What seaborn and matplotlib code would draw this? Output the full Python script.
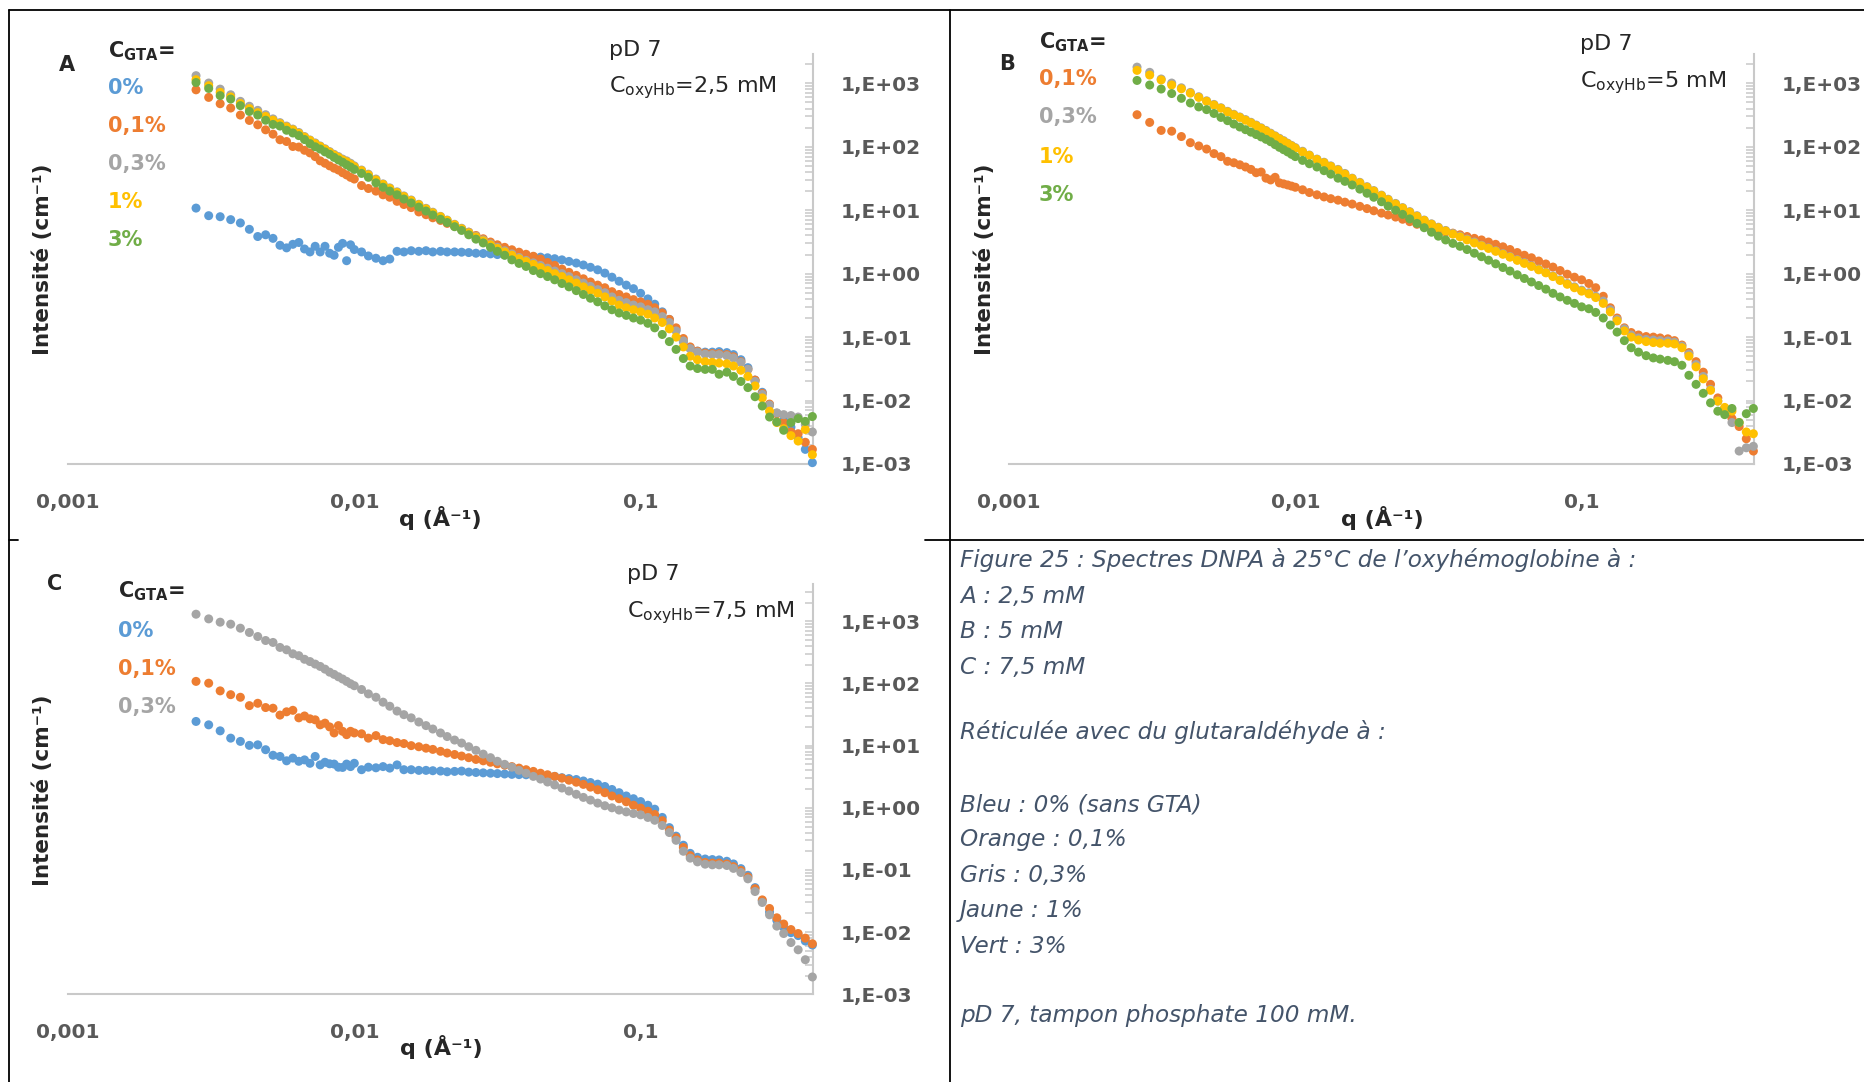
import numpy as np
import pandas as pd
import matplotlib.pyplot as plt
from matplotlib.lines import Line2D
from matplotlib.ticker import LogLocator, FixedLocator, FuncFormatter, NullFormatter
import seaborn as sns

# q grid (A^-1) shared by every curve
q = [0.0028, 0.0031, 0.0034, 0.0037, 0.0040, 0.0043, 0.0046, 0.0049, 0.0052, 0.0055,
     0.0058, 0.0061, 0.0064, 0.0067, 0.0070, 0.0073, 0.0076, 0.0079, 0.0082, 0.0085,
     0.0088, 0.0091, 0.0094, 0.0097, 0.0100, 0.0106, 0.0112, 0.0119, 0.0126, 0.0133,
     0.0141, 0.0149, 0.0158, 0.0168, 0.0178, 0.0188, 0.0200, 0.0211, 0.0224, 0.0237,
     0.0251, 0.0266, 0.0282, 0.0299, 0.0316, 0.0335, 0.0355, 0.0376, 0.0398, 0.0422,
     0.0447, 0.0473, 0.0501, 0.0531, 0.0562, 0.0596, 0.0631, 0.0668, 0.0708, 0.0750,
     0.0794, 0.0841, 0.0891, 0.0944, 0.100, 0.106, 0.112, 0.119, 0.126, 0.133,
     0.141, 0.149, 0.158, 0.168, 0.178, 0.188, 0.200, 0.211, 0.224, 0.237,
     0.251, 0.266, 0.282, 0.299, 0.316, 0.335, 0.355, 0.376, 0.398]

# panel A : C_oxyHb = 2,5 mM
a_0 = [10.8, 8.2, 7.9, 7.1, 6.3, 5.0, 3.85, 4.1, 3.6, 2.8,
       2.55, 2.9, 3.1, 2.45, 2.2, 2.7, 2.2, 2.7, 2.1, 1.95,
       2.6, 3.0, 1.6, 2.85, 2.4, 2.2, 1.9, 1.75, 1.6, 1.7,
       2.25, 2.2, 2.3, 2.25, 2.3, 2.2, 2.25, 2.2, 2.2, 2.18,
       2.15, 2.1, 2.08, 2.05, 2.0, 1.97, 1.93, 1.9, 1.88, 1.85,
       1.82, 1.78, 1.72, 1.65, 1.56, 1.47, 1.37, 1.26, 1.15, 1.02,
       0.88, 0.76, 0.66, 0.58, 0.49, 0.40, 0.33, 0.25, 0.19, 0.13,
       0.085, 0.066, 0.060, 0.058, 0.058, 0.059, 0.057, 0.053, 0.044, 0.033,
       0.021, 0.0135, 0.0085, 0.0063, 0.0049, 0.0038, 0.0026, 0.0017, 0.00105]
a_01 = [790, 600, 477, 408, 316, 260, 222, 185, 158, 129,
        121, 101, 99, 88, 80, 70, 60, 55, 50, 46,
        43, 39, 36, 33, 31, 24.5, 22, 20, 17.5, 16,
        13.8, 12.3, 11, 9.4, 8.5, 7.6, 6.9, 6.2, 5.6, 5.0,
        4.5, 4.0, 3.55, 3.15, 2.85, 2.6, 2.38, 2.18, 2.02, 1.88,
        1.7, 1.5, 1.35, 1.18, 1.05, 0.94, 0.83, 0.74, 0.66, 0.6,
        0.52, 0.47, 0.43, 0.39, 0.36, 0.33, 0.29, 0.24, 0.19, 0.14,
        0.095, 0.07, 0.06, 0.056, 0.055, 0.055, 0.053, 0.049, 0.041, 0.031,
        0.021, 0.013, 0.0088, 0.0062, 0.0045, 0.0032, 0.0030, 0.0022, 0.0017]
a_03 = [1320, 1010, 810, 660, 520, 435, 375, 320, 275, 240,
        212, 190, 168, 145, 128, 115, 103, 93, 84, 76,
        70, 64, 60, 55, 50, 43, 37, 31, 26, 22.5,
        19.5, 16.8, 14.5, 12.4, 10.7, 9.3, 8.0, 7.0, 6.0, 5.2,
        4.5, 3.9, 3.4, 2.95, 2.6, 2.3, 2.05, 1.8, 1.62, 1.48,
        1.35, 1.22, 1.1, 1.0, 0.9, 0.8, 0.71, 0.63, 0.56, 0.5,
        0.43, 0.38, 0.35, 0.32, 0.30, 0.27, 0.25, 0.21, 0.17, 0.125,
        0.087, 0.066, 0.058, 0.054, 0.053, 0.053, 0.051, 0.047, 0.040, 0.031,
        0.020, 0.0125, 0.0085, 0.0064, 0.0060, 0.0058, 0.0055, 0.0042, 0.0032]
a_1 = [1140, 916, 720, 610, 480, 400, 345, 300, 262, 232,
       205, 185, 163, 142, 126, 112, 101, 91, 82, 74,
       68, 62, 58, 53, 48.5, 42, 36, 30, 25.5, 22,
       19, 16.4, 14.2, 12.2, 10.5, 9.1, 7.9, 6.9, 5.9, 5.1,
       4.4, 3.8, 3.3, 2.85, 2.5, 2.2, 1.95, 1.72, 1.55, 1.4,
       1.25, 1.12, 1.0, 0.9, 0.8, 0.71, 0.62, 0.55, 0.49, 0.43,
       0.37, 0.32, 0.29, 0.27, 0.25, 0.23, 0.2, 0.17, 0.135, 0.1,
       0.07, 0.05, 0.044, 0.041, 0.04, 0.039, 0.038, 0.035, 0.03, 0.024,
       0.017, 0.011, 0.0068, 0.0045, 0.0036, 0.0028, 0.0023, 0.0035, 0.0014]
a_3 = [1030, 830, 640, 565, 445, 360, 316, 262, 225, 212,
       182, 165, 150, 130, 112, 100, 92, 83, 76, 68,
       62, 57, 52, 48, 44, 38, 33, 27, 23, 20,
       17.5, 15, 13, 11.2, 9.7, 8.4, 7.2, 6.4, 5.5, 4.8,
       4.1, 3.5, 3.05, 2.6, 2.25, 1.95, 1.65, 1.45, 1.3, 1.12,
       1.0, 0.9, 0.8, 0.7, 0.62, 0.54, 0.47, 0.41, 0.36, 0.31,
       0.27, 0.24, 0.22, 0.2, 0.185, 0.165, 0.14, 0.11, 0.085, 0.064,
       0.046, 0.035, 0.032, 0.031, 0.031, 0.026, 0.028, 0.024, 0.02, 0.016,
       0.0115, 0.0082, 0.0055, 0.0046, 0.0034, 0.0045, 0.0052, 0.0047, 0.0056]

# panel B : C_oxyHb = 5 mM
b_01 = [320, 242, 181, 176, 145, 116, 103, 92, 78, 70,
        59, 56, 52, 48, 44, 39, 40, 32, 30, 33,
        27, 26, 25, 24, 23, 21, 19, 17.5, 16.2, 15.2,
        14.4, 13.4, 12.5, 11.5, 10.6, 9.8, 9.0, 8.4, 7.8, 7.2,
        6.6, 6.0, 5.5, 5.1, 4.8, 4.55, 4.35, 4.1, 3.85, 3.6,
        3.4, 3.15, 2.9, 2.65, 2.4, 2.15, 1.95, 1.78, 1.58, 1.42,
        1.27, 1.12, 0.98, 0.88, 0.8, 0.7, 0.6, 0.44, 0.29, 0.2,
        0.14, 0.118, 0.108, 0.102, 0.1, 0.097, 0.094, 0.088, 0.075, 0.057,
        0.041, 0.028, 0.018, 0.011, 0.0075, 0.0052, 0.0039, 0.0025, 0.0016]
b_03 = [1800, 1490, 1170, 1010, 850, 720, 615, 530, 465, 412,
        362, 325, 295, 268, 243, 220, 199, 181, 164, 149,
        136, 125, 114, 105, 97, 85, 74, 64, 57, 50,
        44, 38, 32, 27.5, 23.5, 20.4, 17.3, 14.9, 12.8, 11,
        9.5, 8.2, 7.0, 6.1, 5.4, 4.8, 4.3, 3.9, 3.5, 3.15,
        2.8, 2.55, 2.3, 2.07, 1.86, 1.66, 1.49, 1.33, 1.18, 1.05,
        0.92, 0.8, 0.7, 0.62, 0.55, 0.5, 0.44, 0.37, 0.27, 0.19,
        0.135, 0.108, 0.097, 0.092, 0.09, 0.088, 0.087, 0.083, 0.072, 0.054,
        0.037, 0.024, 0.015, 0.0098, 0.0072, 0.0045, 0.0016, 0.0018, 0.0019]
b_1 = [1600, 1350, 1130, 940, 820, 700, 600, 520, 455, 405,
       355, 318, 290, 262, 238, 215, 195, 177, 160, 146,
       133, 122, 112, 103, 95, 83, 73, 63, 56, 49,
       43, 37, 31.5, 27, 23, 20, 17, 14.6, 12.5, 10.8,
       9.3, 8.0, 6.9, 6.0, 5.3, 4.7, 4.2, 3.8, 3.4, 3.05,
       2.75, 2.5, 2.25, 2.02, 1.82, 1.62, 1.45, 1.3, 1.15, 1.03,
       0.9, 0.78, 0.68, 0.6, 0.53, 0.48, 0.42, 0.34, 0.25, 0.18,
       0.125, 0.1, 0.09, 0.085, 0.082, 0.08, 0.08, 0.078, 0.068, 0.05,
       0.034, 0.022, 0.0145, 0.0098, 0.0078, 0.0068, 0.0045, 0.0032, 0.0030]
b_3 = [1110, 940, 813, 690, 580, 490, 425, 385, 335, 290,
       258, 228, 205, 186, 170, 156, 143, 131, 120, 108,
       98, 90, 83, 76, 70, 61, 54, 48, 42, 37,
       32, 28.5, 25, 21.5, 18.5, 16, 13.6, 11.6, 10, 8.6,
       7.3, 6.2, 5.3, 4.5, 3.9, 3.4, 3.0, 2.7, 2.4, 2.1,
       1.85, 1.63, 1.43, 1.25, 1.1, 0.96, 0.84, 0.74, 0.65, 0.57,
       0.49, 0.43, 0.38, 0.34, 0.30, 0.28, 0.245, 0.2, 0.155, 0.12,
       0.088, 0.068, 0.058, 0.051, 0.047, 0.045, 0.043, 0.041, 0.036, 0.025,
       0.018, 0.013, 0.0092, 0.0068, 0.006, 0.0075, 0.0045, 0.0062, 0.0075]

# panel C : C_oxyHb = 7,5 mM
c_0 = [24.5, 21.6, 17.3, 13.2, 11.7, 10.1, 10.3, 8.6, 7.0, 6.7,
       5.7, 6.3, 5.6, 5.9, 5.2, 6.7, 4.9, 5.4, 5.1, 5.05,
       4.5, 4.46, 5.05, 4.6, 5.2, 4.1, 4.5, 4.4, 4.6, 4.35,
       4.9, 4.1, 4.1, 4.0, 4.0, 3.95, 3.9, 3.8, 3.85, 3.9,
       3.75, 3.7, 3.65, 3.6, 3.55, 3.5, 3.45, 3.42, 3.4, 3.38,
       3.35, 3.3, 3.2, 3.05, 2.95, 2.85, 2.7, 2.55, 2.4, 2.2,
       1.97, 1.75, 1.55, 1.4, 1.26, 1.1, 0.95, 0.7, 0.48, 0.35,
       0.25, 0.185, 0.16, 0.15, 0.147, 0.145, 0.138, 0.125, 0.105, 0.082,
       0.052, 0.032, 0.021, 0.0155, 0.012, 0.0098, 0.0088, 0.0072, 0.0062]
c_01 = [108, 101, 76, 66, 60, 44, 48, 41, 40, 31,
        35, 37, 28, 30, 27, 26, 21.6, 23, 20, 16,
        21, 17, 15, 17, 16, 15.5, 13.2, 14.5, 12.5, 12,
        11.2, 10.8, 10, 9.6, 9.1, 8.7, 8.1, 7.6, 7.2, 6.8,
        6.4, 6.0, 5.7, 5.4, 5.1, 4.85, 4.6, 4.35, 4.1, 3.85,
        3.6, 3.4, 3.2, 3.0, 2.78, 2.58, 2.38, 2.15, 1.95, 1.75,
        1.55, 1.4, 1.25, 1.1, 0.99, 0.88, 0.78, 0.62, 0.44, 0.33,
        0.23, 0.17, 0.145, 0.132, 0.129, 0.129, 0.125, 0.113, 0.098, 0.077,
        0.05, 0.033, 0.024, 0.017, 0.0135, 0.011, 0.0095, 0.008, 0.0065]
c_03 = [1300, 1094, 968, 899, 775, 661, 569, 491, 457, 380,
        348, 300, 280, 245, 225, 205, 188, 170, 152, 140,
        128, 118, 108, 99, 92, 80, 68, 60, 50, 43,
        36, 31.5, 28, 24, 21, 18.5, 16, 14, 12.3, 11,
        9.6, 8.4, 7.3, 6.4, 5.6, 5.0, 4.5, 4.0, 3.6, 3.2,
        2.9, 2.6, 2.33, 2.08, 1.86, 1.65, 1.47, 1.33, 1.19, 1.08,
        1.0, 0.92, 0.86, 0.81, 0.77, 0.7, 0.63, 0.52, 0.4, 0.3,
        0.2, 0.155, 0.135, 0.124, 0.121, 0.121, 0.118, 0.106, 0.091, 0.072,
        0.045, 0.03, 0.019, 0.0125, 0.0095, 0.0068, 0.0052, 0.0036, 0.0019]

colors = {'0%': '#5b9bd5', '0,1%': '#ed7d31', '0,3%': '#a5a5a5',
          '1%': '#ffc000', '3%': '#70ad47'}

caption = [
    ("Figure 25 : Spectres DNPA à 25°C de l’oxyhémoglobine à :", 567),
    ("A : 2,5 mM", 603), ("B : 5 mM", 638), ("C : 7,5 mM", 674),
    ("Réticulée avec du glutaraldéhyde à :", 739),
    ("Bleu : 0% (sans GTA)", 811), ("Orange : 0,1%", 846), ("Gris : 0,3%", 882),
    ("Jaune : 1%", 917), ("Vert : 3%", 953),
    ("pD 7, tampon phosphate 100 mM.", 1022),
]

W, H = 1865, 1082
sns.set_style("white")
plt.rcParams['font.family'] = ['DejaVu Sans']

fig = plt.figure(figsize=(W / 100, H / 100), dpi=100)


def fx(x):
    return x / W


def fy(y):
    return 1 - y / H


def panel(left, top, bottom, ytop, series):
    ax = fig.add_axes([fx(left), fy(bottom), 745 / W, (bottom - top) / H])
    df = pd.concat([pd.DataFrame({'q': q, 'I': v, 'GTA': k}) for k, v in series.items()],
                   ignore_index=True)
    sns.scatterplot(data=df, x='q', y='I', hue='GTA', palette=colors, s=42,
                    linewidth=0, legend=False, ax=ax, clip_on=False, zorder=3)
    ax.set_xscale('log')
    ax.set_yscale('log')
    ax.set_xlim(1e-3, 0.4)
    ax.set_ylim(1e-3, ytop)
    ax.set_xlabel('')
    ax.set_ylabel('')
    ax.patch.set_alpha(0)
    for s in ['top', 'left']:
        ax.spines[s].set_visible(False)
    for s in ['bottom', 'right']:
        ax.spines[s].set_color('#c9c9c9')
        ax.spines[s].set_linewidth(1.5)
    ax.xaxis.set_major_locator(FixedLocator([1e-3, 1e-2, 1e-1]))
    ax.xaxis.set_minor_locator(LogLocator(base=10, subs=np.arange(2, 10), numticks=20))
    ax.yaxis.set_major_locator(FixedLocator([10.0 ** k for k in range(-3, 4)]))
    ax.yaxis.set_minor_locator(LogLocator(base=10, subs=np.arange(2, 10), numticks=20))
    xlab = {-3: '0,001', -2: '0,01', -1: '0,1'}
    ax.xaxis.set_major_formatter(FuncFormatter(lambda v, p: xlab.get(int(round(np.log10(v))), '')))
    ax.yaxis.set_major_formatter(FuncFormatter(lambda v, p: '1,E{:+03d}'.format(int(round(np.log10(v))))))
    ax.xaxis.set_minor_formatter(NullFormatter())
    ax.yaxis.set_minor_formatter(NullFormatter())
    ax.tick_params(axis='x', which='both', direction='in', length=4.3, width=1.1,
                   color='#c9c9c9', pad=21, labelsize=14.5, labelcolor='#595959')
    ax.tick_params(axis='y', which='both', direction='in', length=5.5, width=1.1,
                   color='#c9c9c9', pad=20, labelsize=14.5, labelcolor='#595959',
                   left=False, right=True, labelleft=False, labelright=True)
    plt.setp(ax.get_xticklabels() + ax.get_yticklabels(), fontweight='bold')
    return ax


panel(68, 53.5, 464, 10 ** 3.47, {'0%': a_0, '0,1%': a_01, '0,3%': a_03, '1%': a_1, '3%': a_3})
panel(1009, 53.5, 464, 10 ** 3.47, {'0,1%': b_01, '0,3%': b_03, '1%': b_1, '3%': b_3})
panel(68, 584, 994.3, 10 ** 3.6, {'0%': c_0, '0,1%': c_01, '0,3%': c_03})

# panel annotations: letter, C_GTA legend, pD / concentration, axis titles
annots = [
    dict(letter=('A', 66.7, 71.3), gta=(108, 57.4), keys=['0%', '0,1%', '0,3%', '1%', '3%'],
         ys=[94.5, 132.5, 170.5, 208.5, 246.5], pd=(609, 55.6, 92), conc='2,5',
         ylab=(42.3, 259), xlab=(440, 518)),
    dict(letter=('B', 1007, 69.5), gta=(1038.7, 48.7), keys=['0,1%', '0,3%', '1%', '3%'],
         ys=[85.5, 123.5, 162.5, 200.5], pd=(1580, 50.4, 87), conc='5',
         ylab=(985, 259), xlab=(1382, 518)),
    dict(letter=('C', 54.5, 590), gta=(118, 597), keys=['0%', '0,1%', '0,3%'],
         ys=[636.8, 674.8, 712.8], pd=(627, 579.8, 617.8), conc='7,5',
         ylab=(42.3, 790), xlab=(441, 1047)),
]
for a in annots:
    t, x, y = a['letter']
    fig.text(fx(x), fy(y), t, ha='center', va='baseline', fontsize=15, fontweight='bold')
    fig.text(fx(a['gta'][0]), fy(a['gta'][1]), r'C$_{\mathbf{GTA}}$=', ha='left',
             va='baseline', fontsize=15, fontweight='bold')
    for k, y in zip(a['keys'], a['ys']):
        fig.text(fx(a['gta'][0]), fy(y), k, color=colors[k], ha='left', va='baseline',
                 fontsize=15, fontweight='bold')
    px, y1, y2 = a['pd']
    fig.text(fx(px), fy(y1), 'pD 7', ha='left', va='baseline', fontsize=16)
    fig.text(fx(px), fy(y2), r'C$_{\mathrm{oxyHb}}$=' + a['conc'] + ' mM', ha='left',
             va='baseline', fontsize=16)
    fig.text(fx(a['ylab'][0]), fy(a['ylab'][1]), 'Intensité (cm⁻¹)', rotation=90,
             ha='center', va='center', fontsize=15.5, fontweight='bold')
    fig.text(fx(a['xlab'][0]), fy(a['xlab'][1]), 'q (Å⁻¹)', ha='center', va='center',
             fontsize=16, fontweight='bold')

for line, y in caption:
    fig.text(fx(960), fy(y), line, ha='left', va='baseline', fontsize=16.7,
             style='italic', color='#44546a')

# table borders around the panels
for xs, ys in [([9.5, W], [9.5, 9.5]), ([9.5, 9.5], [9.5, H]), ([950, 950], [9.5, H]),
               ([9.5, 18], [540, 540]), ([925, W], [540, 540])]:
    fig.add_artist(Line2D([fx(v) for v in xs], [fy(v) for v in ys], color='black',
                          linewidth=1.3, transform=fig.transFigure))

fig.savefig('out.png', dpi=100)
